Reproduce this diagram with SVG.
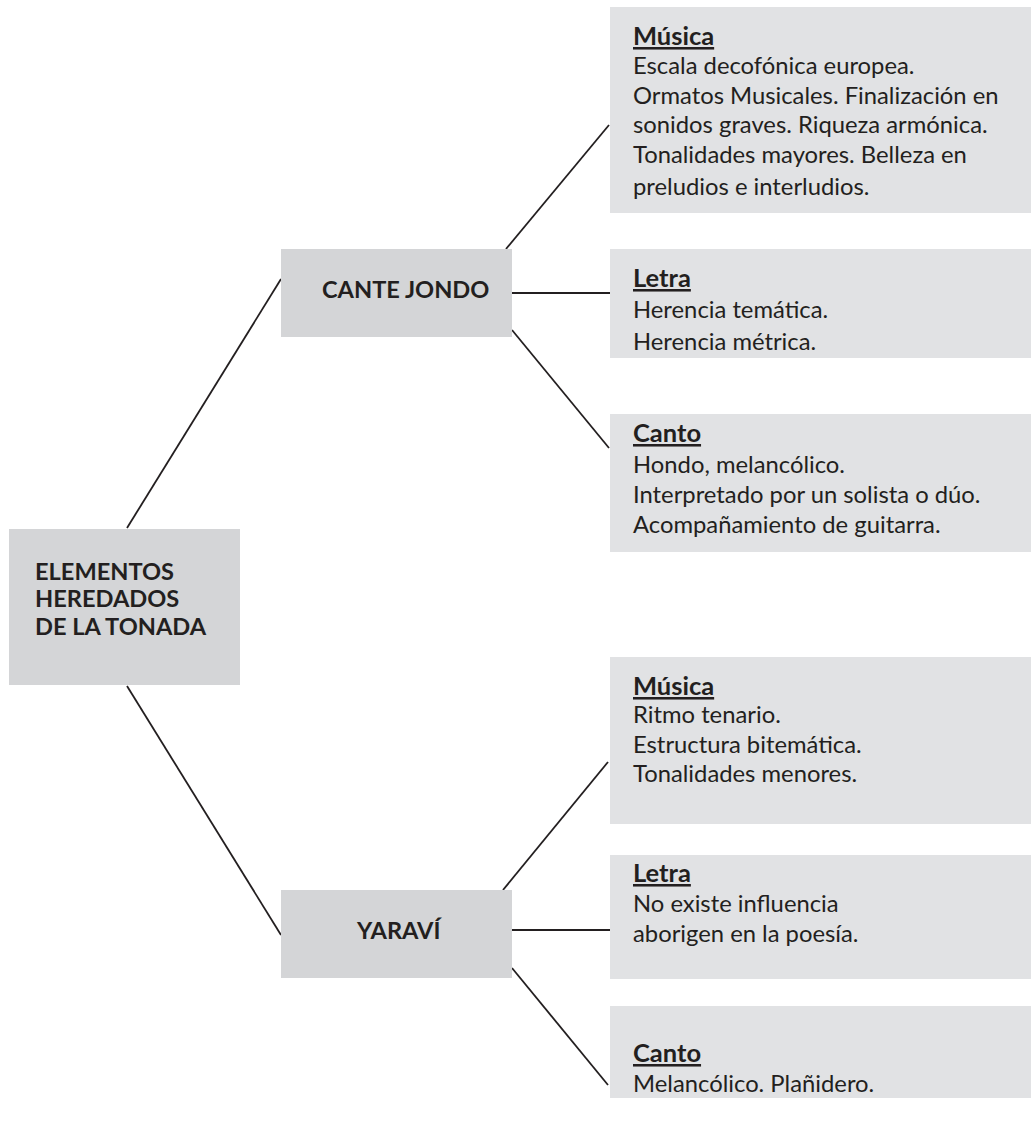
<svg xmlns="http://www.w3.org/2000/svg" width="1031" height="1127" viewBox="0 0 1031 1127">
<style>
.dark{fill:#d4d5d7}
.light{fill:#e1e2e4}
.t{font-family:Lato,"Open Sans","Liberation Sans",sans-serif;fill:#231f20;font-size:23.8px}
.b{font-family:Lato,"Open Sans","Liberation Sans",sans-serif;fill:#231f20;font-size:23.6px;font-weight:bold}
.h{text-decoration:underline;font-size:25.5px}
.c{stroke:#231f20;stroke-width:1.8;fill:none}
</style>
<rect width="1031" height="1127" fill="#ffffff"/>
<g id="connectors">
<line class="c" x1="127" y1="528" x2="281" y2="279"/>
<line class="c" x1="127" y1="686" x2="281" y2="935"/>
<line class="c" x1="506" y1="249" x2="609" y2="125"/>
<line class="c" x1="512" y1="293" x2="610" y2="293"/>
<line class="c" x1="512" y1="330" x2="609" y2="448"/>
<line class="c" x1="503" y1="890" x2="608" y2="762"/>
<line class="c" x1="512" y1="930" x2="610" y2="930"/>
<line class="c" x1="512" y1="968" x2="608" y2="1085"/>
</g>
<g id="root">
<rect class="dark" x="9" y="529" width="231" height="156"/>
<text class="b" x="35" y="580">ELEMENTOS</text>
<text class="b" x="35" y="607">HEREDADOS</text>
<text class="b" x="35" y="635">DE LA TONADA</text>
</g>
<g id="cante-jondo">
<rect class="dark" x="281" y="249" width="231" height="88"/>
<text class="b" x="322" y="298">CANTE JONDO</text>
</g>
<g id="yaravi">
<rect class="dark" x="281" y="890" width="231" height="88"/>
<text class="b" x="357" y="939">YARAVÍ</text>
</g>
<g id="cj-musica">
<rect class="light" x="610" y="7" width="421" height="206"/>
<text class="b h" x="633" y="45">Música</text>
<text class="t" x="633" y="74">Escala decofónica europea.</text>
<text class="t" x="633" y="104">Ormatos Musicales. Finalización en</text>
<text class="t" x="633" y="133">sonidos graves. Riqueza armónica.</text>
<text class="t" x="633" y="163">Tonalidades mayores. Belleza en</text>
<text class="t" x="633" y="195">preludios e interludios.</text>
</g>
<g id="cj-letra">
<rect class="light" x="610" y="249" width="421" height="109"/>
<text class="b h" x="633" y="287">Letra</text>
<text class="t" x="633" y="318">Herencia temática.</text>
<text class="t" x="633" y="350">Herencia métrica.</text>
</g>
<g id="cj-canto">
<rect class="light" x="610" y="414" width="421" height="138"/>
<text class="b h" x="633" y="442">Canto</text>
<text class="t" x="633" y="473">Hondo, melancólico.</text>
<text class="t" x="633" y="503">Interpretado por un solista o dúo.</text>
<text class="t" x="633" y="533">Acompañamiento de guitarra.</text>
</g>
<g id="y-musica">
<rect class="light" x="610" y="657" width="421" height="167"/>
<text class="b h" x="633" y="695">Música</text>
<text class="t" x="633" y="723">Ritmo tenario.</text>
<text class="t" x="633" y="753">Estructura bitemática.</text>
<text class="t" x="633" y="782">Tonalidades menores.</text>
</g>
<g id="y-letra">
<rect class="light" x="610" y="855" width="421" height="124"/>
<text class="b h" x="633" y="882">Letra</text>
<text class="t" x="633" y="912">No existe influencia</text>
<text class="t" x="633" y="942">aborigen en la poesía.</text>
</g>
<g id="y-canto">
<rect class="light" x="610" y="1006" width="421" height="92"/>
<text class="b h" x="633" y="1062">Canto</text>
<text class="t" x="633" y="1092">Melancólico. Plañidero.</text>
</g>
</svg>
